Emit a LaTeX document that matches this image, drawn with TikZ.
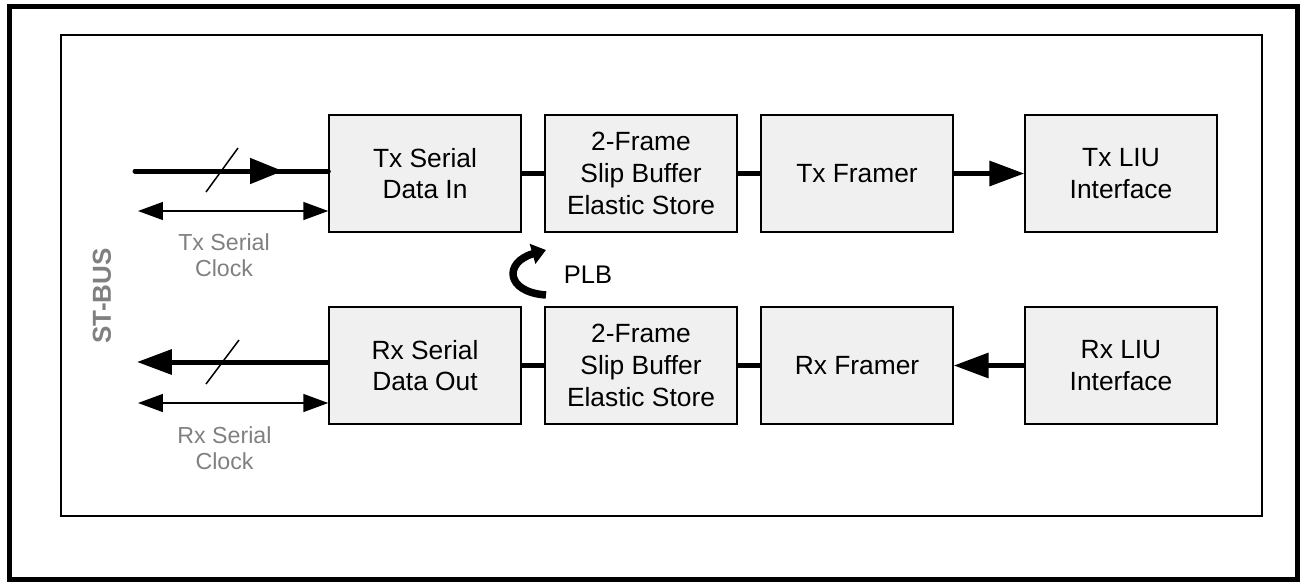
\documentclass[tikz,border=0pt]{standalone}
\usepackage{fontspec}
\setmainfont{Liberation Sans}
\usetikzlibrary{arrows.meta}
\definecolor{boxgray}{RGB}{240,240,240}
\definecolor{labelgray}{RGB}{128,128,128}

\begin{document}
\begin{tikzpicture}[x=0.02cm,y=-0.02cm,
	blk/.style={draw,line width=0.03cm,fill=boxgray,minimum width=3.84cm,minimum height=2.34cm,inner sep=0,align=center,font=\fontsize{15}{18.1}\selectfont},
	lbl/.style={text=labelgray,align=center,font=\fontsize{13.2}{14.7}\selectfont},
	bus/.style={line width=0.1cm},
	busarrow/.style={bus,-{Triangle[length=0.7cm,width=0.49cm]}},
	clk/.style={line width=0.03cm,{Triangle[length=0.5cm,width=0.36cm]}-{Triangle[length=0.5cm,width=0.36cm]}},
	slash/.style={line width=0.03cm}]
	\useasboundingbox (0,0) rectangle (1304,582);
	\draw[line width=0.1cm] (9.5,6) rectangle (1297.5,579.5); %outer frame
	\draw[line width=0.04cm] (61,34.5) rectangle (1262,516);
	
	%transmit row
	\node[blk] (txser) at (425,173.5) {Tx Serial\\Data In};
	\node[blk] (txslip) at (641,173.5) {2-Frame\\Slip Buffer\\Elastic Store};
	\node[blk] (txfrm) at (857,173.5) {Tx Framer};
	\node[blk] (txliu) at (1121,173.5) {Tx LIU\\Interface};
	%receive row
	\node[blk] (rxser) at (425,365.5) {Rx Serial\\Data Out};
	\node[blk] (rxslip) at (641,365.5) {2-Frame\\Slip Buffer\\Elastic Store};
	\node[blk] (rxfrm) at (857,365.5) {Rx Framer};
	\node[blk] (rxliu) at (1121,365.5) {Rx LIU\\Interface};
	
	\draw[bus] (txser) -- (txslip);
	\draw[bus] (txslip) -- (txfrm);
	\draw[busarrow] (txfrm) -- (txliu);
	\draw[bus] (rxslip) -- (rxser);
	\draw[bus] (rxfrm) -- (rxslip);
	\draw[busarrow] (rxliu) -- (rxfrm);
	
	%ST-BUS side
	\coordinate (txin) at (135,171);
	\coordinate (txmid) at (283,171);
	\coordinate (rxout) at (137,362);
	\coordinate (txclk) at (138,211);
	\coordinate (rxclk) at (138,403);
	\draw[bus,line cap=round] (txin) -- (txin -| txser.west);
	\draw[bus,-{Triangle[length=0.66cm,width=0.5cm]}] (txin) -- (txmid);
	\draw[busarrow] (rxout -| rxser.west) -- (rxout);
	\draw[clk] (txclk) -- (txclk -| txser.west);
	\draw[clk] (rxclk) -- (rxclk -| rxser.west);
	\draw[slash] (206,192) -- (238,148);
	\draw[slash] (206,384) -- (239,340);
	
	\node[lbl] (txclklbl) at (224,255) {Tx Serial\\Clock};
	\node[lbl] (rxclklbl) at (224.5,448.5) {Rx Serial\\Clock};
	\node[rotate=90,text=labelgray,font=\fontsize{14.8}{17}\selectfont\bfseries] (stbus) at (102,296) {ST-BUS};
	
	%parallel loopback
	\node[font=\fontsize{14.5}{17}\selectfont] (plb) at (588,275) {PLB};
	\draw[line width=0.15cm,-{Triangle[length=0.28cm,width=0.4cm]}] (546,295) .. controls (505,292) and (504,262) .. (546,250);
\end{tikzpicture}
\end{document}
